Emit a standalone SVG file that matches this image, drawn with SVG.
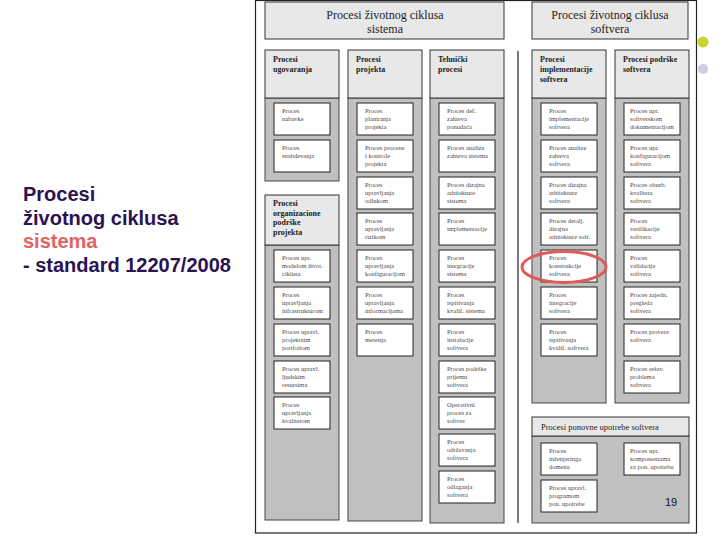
<svg xmlns="http://www.w3.org/2000/svg" width="720" height="540" viewBox="0 0 720 540">
<style>
.hdr{fill:#e8e8e8;stroke:#333;stroke-width:1}
.area{fill:#c0c0c0;stroke:#444;stroke-width:1}
.box{fill:#fff;stroke:#222;stroke-width:1}
.bt{font-family:"Liberation Serif",serif;font-size:6.5px;fill:#4a4a4a}
.ht{font-family:"Liberation Serif",serif;font-size:8px;font-weight:bold;fill:#222}
.mt{font-family:"Liberation Serif",serif;font-size:12px;fill:#222;text-anchor:middle}
.st{font-family:"Liberation Sans",Arial,sans-serif;font-size:20px;font-weight:bold;fill:#2b1250}
</style>
<rect x="0" y="0" width="720" height="540" fill="#fff"/>
<circle cx="703" cy="42" r="5.5" fill="#c9d22e"/>
<circle cx="703" cy="69" r="5" fill="#cdcde3"/>
<g id="slide-title">
<text class="st" x="23" y="201">Procesi</text>
<text class="st" x="23" y="225">životnog ciklusa</text>
<text class="st" x="23" y="248" style="fill:#e06464">sistema</text>
<text class="st" x="23" y="272">- standard 12207/2008</text>
</g>
<g id="frame">
<rect x="255.5" y="0.5" width="441" height="532.5" fill="#fff" stroke="#222" stroke-width="1.2"/>
<line x1="518" y1="51" x2="518" y2="523" stroke="#222" stroke-width="1.2"/>
</g>
<g id="hdr-sistem"><rect class="hdr" x="265" y="2" width="239" height="37"/>
<text class="mt" x="385" y="19">Procesi životnog ciklusa</text><text class="mt" x="385" y="33">sistema</text></g>
<g id="hdr-softver"><rect class="hdr" x="532" y="2" width="156" height="37"/>
<text class="mt" x="610" y="19">Procesi životnog ciklusa</text><text class="mt" x="610" y="33">softvera</text></g>

<g id="col-ugovaranja">
<rect class="area" x="265" y="98" width="74" height="83"/>
<rect class="hdr" x="265" y="50" width="74" height="48"/>
<text class="ht" x="273" y="62">Procesi</text><text class="ht" x="273" y="72">ugovaranja</text>
</g>
<g id="col-org">
<rect class="area" x="265" y="245" width="74" height="275"/>
<rect class="hdr" x="265" y="195" width="74" height="50"/>
<text class="ht" x="273" y="206">Procesi</text><text class="ht" x="273" y="215.5">organizacione</text><text class="ht" x="273" y="225">podrške</text><text class="ht" x="273" y="234.5">projekta</text>
</g>
<g id="col-projekta">
<rect class="area" x="348" y="98" width="74" height="423"/>
<rect class="hdr" x="348" y="50" width="74" height="48"/>
<text class="ht" x="356" y="62">Procesi</text><text class="ht" x="356" y="72">projekta</text>
</g>
<g id="col-tehnicki">
<rect class="area" x="430" y="98" width="74" height="425"/>
<rect class="hdr" x="430" y="50" width="74" height="48"/>
<text class="ht" x="438" y="62">Tehnički</text><text class="ht" x="438" y="72">procesi</text>
</g>
<g id="col-implementacija">
<rect class="area" x="532" y="98" width="74" height="305"/>
<rect class="hdr" x="532" y="50" width="74" height="48"/>
<text class="ht" x="540" y="62">Procesi</text><text class="ht" x="540" y="72">implementacije</text><text class="ht" x="540" y="82">softvera</text>
</g>
<g id="col-podrska">
<rect class="area" x="615" y="98" width="74" height="305"/>
<rect class="hdr" x="615" y="50" width="74" height="48"/>
<text class="ht" x="623" y="62">Procesi podrške</text><text class="ht" x="623" y="72">softvera</text>
</g>
<g id="col-ponovna">
<rect class="area" x="532" y="436" width="157" height="87"/>
<rect class="hdr" x="532" y="417" width="157" height="19"/>
<text class="ht" x="541" y="429.5" style="font-weight:normal;font-size:8.5px">Procesi ponovne upotrebe softvera</text>
</g>

<!-- col1 -->
<g id="n-nabavka"><rect class="box" x="274" y="103" width="56" height="32"/><text class="bt" x="282" y="113">Proces</text><text class="bt" x="282" y="121">nabavke</text></g>
<g id="n-snabdevanje"><rect class="box" x="274" y="140" width="56" height="32"/><text class="bt" x="282" y="150">Proces</text><text class="bt" x="282" y="158">snabdevanja</text></g>
<g id="n-model"><rect class="box" x="274" y="250" width="56" height="32"/><text class="bt" x="282" y="260">Proces upr.</text><text class="bt" x="282" y="268">modelom život.</text><text class="bt" x="282" y="276">ciklusa</text></g>
<g id="n-infra"><rect class="box" x="274" y="287" width="56" height="32"/><text class="bt" x="282" y="297">Proces</text><text class="bt" x="282" y="305">upravljanja</text><text class="bt" x="282" y="313">infrastrukturom</text></g>
<g id="n-portfolio"><rect class="box" x="274" y="324" width="56" height="32"/><text class="bt" x="282" y="334">Proces upravl.</text><text class="bt" x="282" y="342">projektnim</text><text class="bt" x="282" y="350">portfoliom</text></g>
<g id="n-ljudski"><rect class="box" x="274" y="361" width="56" height="32"/><text class="bt" x="282" y="371">Proces upravl.</text><text class="bt" x="282" y="379">ljudskim</text><text class="bt" x="282" y="387">resursima</text></g>
<g id="n-kvalitet"><rect class="box" x="274" y="397" width="56" height="32"/><text class="bt" x="282" y="407">Proces</text><text class="bt" x="282" y="415">upravljanja</text><text class="bt" x="282" y="423">kvalitetom</text></g>

<!-- col2 -->
<g id="n-planiranje"><rect class="box" x="357" y="103" width="56" height="32"/><text class="bt" x="365" y="113">Proces</text><text class="bt" x="365" y="121">planiranja</text><text class="bt" x="365" y="129">projekta</text></g>
<g id="n-procena"><rect class="box" x="357" y="140" width="56" height="32"/><text class="bt" x="365" y="150">Proces procene</text><text class="bt" x="365" y="158">i kontrole</text><text class="bt" x="365" y="166">projekta</text></g>
<g id="n-odluka"><rect class="box" x="357" y="177" width="56" height="32"/><text class="bt" x="365" y="187">Proces</text><text class="bt" x="365" y="195">upravljanja</text><text class="bt" x="365" y="203">odlukom</text></g>
<g id="n-rizik"><rect class="box" x="357" y="213" width="56" height="32"/><text class="bt" x="365" y="223">Proces</text><text class="bt" x="365" y="231">upravljanja</text><text class="bt" x="365" y="239">rizikom</text></g>
<g id="n-konfig"><rect class="box" x="357" y="250" width="56" height="32"/><text class="bt" x="365" y="260">Proces</text><text class="bt" x="365" y="268">upravljanja</text><text class="bt" x="365" y="276">konfiguracijom</text></g>
<g id="n-informacije"><rect class="box" x="357" y="287" width="56" height="32"/><text class="bt" x="365" y="297">Proces</text><text class="bt" x="365" y="305">upravljanja</text><text class="bt" x="365" y="313">informacijama</text></g>
<g id="n-merenje"><rect class="box" x="357" y="324" width="56" height="32"/><text class="bt" x="365" y="334">Proces</text><text class="bt" x="365" y="342">merenja</text></g>

<!-- col3 -->
<g id="n-zahtevi-nar"><rect class="box" x="439" y="103" width="56" height="32"/><text class="bt" x="447" y="113">Proces def.</text><text class="bt" x="447" y="121">zahteva</text><text class="bt" x="447" y="129">ponuđača</text></g>
<g id="n-analiza-sis"><rect class="box" x="439" y="140" width="56" height="32"/><text class="bt" x="447" y="150">Proces analize</text><text class="bt" x="447" y="158">zahteva sistema</text></g>
<g id="n-dizajn-sis"><rect class="box" x="439" y="177" width="56" height="32"/><text class="bt" x="447" y="187">Proces dizajna</text><text class="bt" x="447" y="195">arhitekture</text><text class="bt" x="447" y="203">sistema</text></g>
<g id="n-implementacija"><rect class="box" x="439" y="213" width="56" height="32"/><text class="bt" x="447" y="223">Proces</text><text class="bt" x="447" y="231">implementacije</text></g>
<g id="n-integracija-sis"><rect class="box" x="439" y="250" width="56" height="32"/><text class="bt" x="447" y="260">Proces</text><text class="bt" x="447" y="268">integracije</text><text class="bt" x="447" y="276">sistema</text></g>
<g id="n-ispit-sis"><rect class="box" x="439" y="287" width="56" height="32"/><text class="bt" x="447" y="297">Proces</text><text class="bt" x="447" y="305">ispitivanja</text><text class="bt" x="447" y="313">kvalif. sistema</text></g>
<g id="n-instalacija"><rect class="box" x="439" y="324" width="56" height="32"/><text class="bt" x="447" y="334">Proces</text><text class="bt" x="447" y="342">instalacije</text><text class="bt" x="447" y="350">softvera</text></g>
<g id="n-prijem"><rect class="box" x="439" y="361" width="56" height="32"/><text class="bt" x="447" y="371">Proces podrške</text><text class="bt" x="447" y="379">prijemu</text><text class="bt" x="447" y="387">softvera</text></g>
<g id="n-operativni"><rect class="box" x="439" y="397" width="56" height="32"/><text class="bt" x="447" y="407">Operativni</text><text class="bt" x="447" y="415">proces za</text><text class="bt" x="447" y="423">softver</text></g>
<g id="n-odrzavanje"><rect class="box" x="439" y="434" width="56" height="32"/><text class="bt" x="447" y="444">Proces</text><text class="bt" x="447" y="452">održavanja</text><text class="bt" x="447" y="460">softvera</text></g>
<g id="n-odlaganje"><rect class="box" x="439" y="471" width="56" height="32"/><text class="bt" x="447" y="481">Proces</text><text class="bt" x="447" y="489">odlaganja</text><text class="bt" x="447" y="497">softvera</text></g>

<!-- col4 -->
<g id="n-impl-sw"><rect class="box" x="541" y="103" width="56" height="32"/><text class="bt" x="549" y="113">Proces</text><text class="bt" x="549" y="121">implementacije</text><text class="bt" x="549" y="129">softvera</text></g>
<g id="n-analiza-sw"><rect class="box" x="541" y="140" width="56" height="32"/><text class="bt" x="549" y="150">Proces analize</text><text class="bt" x="549" y="158">zahteva</text><text class="bt" x="549" y="166">softvera</text></g>
<g id="n-dizajn-sw"><rect class="box" x="541" y="177" width="56" height="32"/><text class="bt" x="549" y="187">Proces dizajna</text><text class="bt" x="549" y="195">arhitekture</text><text class="bt" x="549" y="203">softvera</text></g>
<g id="n-detalj-sw"><rect class="box" x="541" y="213" width="56" height="32"/><text class="bt" x="549" y="223">Proces detalj.</text><text class="bt" x="549" y="231">dizajna</text><text class="bt" x="549" y="239">arhitekture soft.</text></g>
<g id="n-konstrukcija-sw"><rect class="box" x="541" y="250" width="56" height="32"/><text class="bt" x="549" y="260">Proces</text><text class="bt" x="549" y="268">konstrukcije</text><text class="bt" x="549" y="276">softvera</text></g>
<g id="n-integracija-sw"><rect class="box" x="541" y="287" width="56" height="32"/><text class="bt" x="549" y="297">Proces</text><text class="bt" x="549" y="305">integracije</text><text class="bt" x="549" y="313">softvera</text></g>
<g id="n-ispit-sw"><rect class="box" x="541" y="324" width="56" height="32"/><text class="bt" x="549" y="334">Proces</text><text class="bt" x="549" y="342">ispitivanja</text><text class="bt" x="549" y="350">kvalif. softvera</text></g>

<!-- col5 -->
<g id="n-dokumentacija"><rect class="box" x="624" y="103" width="56" height="32"/><text class="bt" x="630" y="113">Proces upr.</text><text class="bt" x="630" y="121">softverskom</text><text class="bt" x="630" y="129">dokumentacijom</text></g>
<g id="n-konfig-sw"><rect class="box" x="624" y="140" width="56" height="32"/><text class="bt" x="630" y="150">Proces upr.</text><text class="bt" x="630" y="158">konfiguracijom</text><text class="bt" x="630" y="166">softvera</text></g>
<g id="n-obezb-kval"><rect class="box" x="624" y="177" width="56" height="32"/><text class="bt" x="630" y="187">Proces obezb.</text><text class="bt" x="630" y="195">kvaliteta</text><text class="bt" x="630" y="203">softvera</text></g>
<g id="n-verifikacija"><rect class="box" x="624" y="213" width="56" height="32"/><text class="bt" x="630" y="223">Proces</text><text class="bt" x="630" y="231">verifikacije</text><text class="bt" x="630" y="239">softvera</text></g>
<g id="n-validacija"><rect class="box" x="624" y="250" width="56" height="32"/><text class="bt" x="630" y="260">Proces</text><text class="bt" x="630" y="268">validacije</text><text class="bt" x="630" y="276">softvera</text></g>
<g id="n-zajedn-pregled"><rect class="box" x="624" y="287" width="56" height="32"/><text class="bt" x="630" y="297">Proces zajedn.</text><text class="bt" x="630" y="305">pregleda</text><text class="bt" x="630" y="313">softvera</text></g>
<g id="n-provera"><rect class="box" x="624" y="324" width="56" height="32"/><text class="bt" x="630" y="334">Proces provere</text><text class="bt" x="630" y="342">softvera</text></g>
<g id="n-problemi"><rect class="box" x="624" y="361" width="56" height="32"/><text class="bt" x="630" y="371">Proces rešav.</text><text class="bt" x="630" y="379">problema</text><text class="bt" x="630" y="387">softvera</text></g>

<!-- reuse -->
<g id="n-domen"><rect class="box" x="541" y="443" width="56" height="32"/><text class="bt" x="549" y="453">Proces</text><text class="bt" x="549" y="461">inženjeringa</text><text class="bt" x="549" y="469">domena</text></g>
<g id="n-komponente"><rect class="box" x="624" y="443" width="56" height="32"/><text class="bt" x="630" y="453">Proces upr.</text><text class="bt" x="630" y="461">komponentama</text><text class="bt" x="630" y="469">za pon. upotrebu</text></g>
<g id="n-program"><rect class="box" x="541" y="480" width="56" height="32"/><text class="bt" x="549" y="490">Proces upravl.</text><text class="bt" x="549" y="498">programom</text><text class="bt" x="549" y="506">pon. upotrebe</text></g>
<text x="665" y="506" style="font-family:'Liberation Sans',Arial,sans-serif;font-size:11px;fill:#111">19</text>

<g id="highlight">
<ellipse cx="564" cy="267" rx="42" ry="15.5" fill="none" stroke="#e05a5a" stroke-width="3"/>
</g>
</svg>
